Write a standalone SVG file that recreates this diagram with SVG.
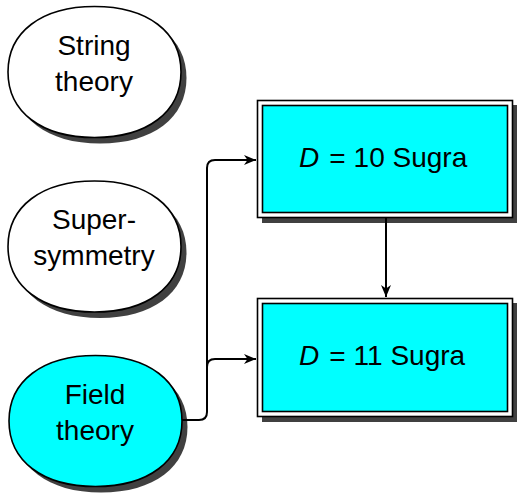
<svg xmlns="http://www.w3.org/2000/svg" width="517" height="493" viewBox="0 0 517 493">
<defs>
<marker id="arr" markerWidth="13" markerHeight="11" refX="12" refY="5" orient="auto" markerUnits="userSpaceOnUse">
<path d="M0,0 L12,5 L0,10 L3.5,5 Z" fill="#000"/>
</marker>
<path id="ov" d="M-86.5,0 C-86.5,-40 -53,-65.5 0,-65.5 C53,-65.5 86.5,-40 86.5,0 C86.5,40 53,65.5 0,65.5 C-53,65.5 -86.5,40 -86.5,0 Z"/>
</defs>
<style>
.sh{fill:#404040}
.el{stroke:#000;stroke-width:1.6}
.w{fill:#fff}
.c{fill:#00ffff}
.t{font-family:"Liberation Sans",Arial,sans-serif;font-size:28px;fill:#000;text-anchor:middle}
.ts{font-family:"Liberation Sans",Arial,sans-serif;font-size:28px;fill:#000}
.ln{fill:none;stroke:#000;stroke-width:2}
.bo{fill:#fff;stroke:#000;stroke-width:1.6}
.bi{fill:#00ffff;stroke:#000;stroke-width:1.6}
</style>
<rect width="517" height="493" fill="#fff"/>
<g id="string">
<use href="#ov" class="sh" transform="translate(100,78)"/>
<use href="#ov" class="el w" transform="translate(94.5,72)"/>
<text class="t" x="94" y="55">String</text>
<text class="t" x="94" y="91">theory</text>
</g>
<g id="susy">
<use href="#ov" class="sh" transform="translate(100,252.5)"/>
<use href="#ov" class="el w" transform="translate(94.5,246.5)"/>
<text class="t" x="94" y="229">Super-</text>
<text class="t" x="94" y="265">symmetry</text>
</g>
<g id="field">
<use href="#ov" class="sh" transform="translate(101,427)"/>
<use href="#ov" class="el c" transform="translate(95.5,421)"/>
<text class="t" x="95" y="404">Field</text>
<text class="t" x="95" y="440">theory</text>
</g>
<g id="d10">
<rect class="sh" x="262" y="105" width="256" height="118"/>
<rect class="bo" x="257.5" y="100.5" width="255" height="117"/>
<rect class="bi" x="262.5" y="105.5" width="245" height="107"/>
<text class="ts" x="299" y="167"><tspan font-style="italic">D</tspan><tspan dx="10" dy="1">=</tspan><tspan dx="8" dy="-1">10 Sugra</tspan></text>
</g>
<g id="d11">
<rect class="sh" x="262" y="303" width="256" height="119"/>
<rect class="bo" x="257.5" y="298.5" width="255" height="118"/>
<rect class="bi" x="262.5" y="303.5" width="245" height="108"/>
<text class="ts" x="299" y="365"><tspan font-style="italic">D</tspan><tspan dx="10" dy="1">=</tspan><tspan dx="8" dy="-1">11 Sugra</tspan></text>
</g>
<g id="connectors">
<path class="ln" d="M182,420 H199 Q207,420 207,412 V168 Q207,160 215,160 H256" marker-end="url(#arr)"/>
<path class="ln" d="M207,367 Q207,359 215,359 H256" marker-end="url(#arr)"/>
<path class="ln" d="M386,218 V297" marker-end="url(#arr)"/>
</g>
</svg>
